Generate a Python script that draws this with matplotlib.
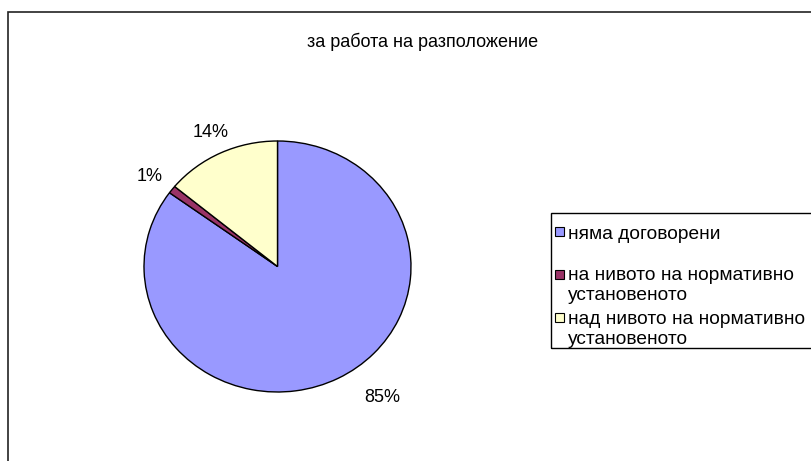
import matplotlib
matplotlib.use("Agg")
import matplotlib.pyplot as plt
from matplotlib.patches import Rectangle
import numpy as np

plt.rcParams['font.family'] = ['Liberation Sans', 'DejaVu Sans']

title = "за работа на разположение"
categories = ["няма договорени",
              "на нивото на нормативно\nустановеното",
              "над нивото на нормативно\nустановеното"]
values = [85, 1, 14]
colors = ["#9999FF", "#993366", "#FFFFCC"]

W, H = 812, 461
FS = 13
LFS = 13.8
fig = plt.figure(figsize=(W / 100, H / 100), dpi=100)

def fx(x):
    return x / W

def fy(y):
    return 1 - y / H

# outer chart frame (continues past right/bottom edges)
fig.patches.append(Rectangle((fx(8), fy(475)), fx(830) - fx(8), fy(12) - fy(475),
                             transform=fig.transFigure, fill=False,
                             edgecolor="#222222", linewidth=1.2))

fig.text(fx(423), fy(42), title, ha='center', va='center', fontsize=FS)

# pie (slightly elliptical as in reference)
cx, cy, rx, ry = 277.5, 266.5, 133.5, 125.5
ax = fig.add_axes([fx(cx - rx), fy(cy + ry), (2 * rx) / W, (2 * ry) / H])
wedges, texts, autotexts = ax.pie(values, colors=colors, startangle=90, counterclock=False,
                                  autopct='%1.0f%%', pctdistance=1.2,
                                  wedgeprops=dict(edgecolor='black', linewidth=1.0),
                                  textprops=dict(fontsize=FS))
ax.set_aspect('auto')
ax.set_xlim(-1, 1)
ax.set_ylim(-1, 1)
ax.axis('off')

# best-fit style label placement
angle_shift = [10, 1, 0]
dist = [1.31, 1.2, 1.18]
for i, w in enumerate(wedges):
    mid = (w.theta1 + w.theta2) / 2 + angle_shift[i]
    a = np.deg2rad(mid)
    autotexts[i].set_position((dist[i] * np.cos(a), dist[i] * np.sin(a)))
    autotexts[i].set_ha('center')
    autotexts[i].set_va('center')

# legend box (manual, extends past right edge)
lx, ltop, lbot = 551, 213, 348
fig.patches.append(Rectangle((fx(lx), fy(lbot)), fx(830) - fx(lx), fy(ltop) - fy(lbot),
                             transform=fig.transFigure, fill=False,
                             edgecolor="black", linewidth=1.0))
row_y = [232, 274, 317]
line_gap = 20
msz = 9
for i, lab in enumerate(categories):
    y0 = row_y[i]
    fig.patches.append(Rectangle((fx(555), fy(y0 + msz / 2)), msz / W, msz / H,
                                 transform=fig.transFigure, facecolor=colors[i],
                                 edgecolor='black', linewidth=0.8))
    for j, line in enumerate(lab.split("\n")):
        fig.text(fx(568), fy(y0 + j * line_gap), line, ha='left', va='center_baseline',
                 fontsize=LFS)

fig.savefig("out.png", dpi=100)
